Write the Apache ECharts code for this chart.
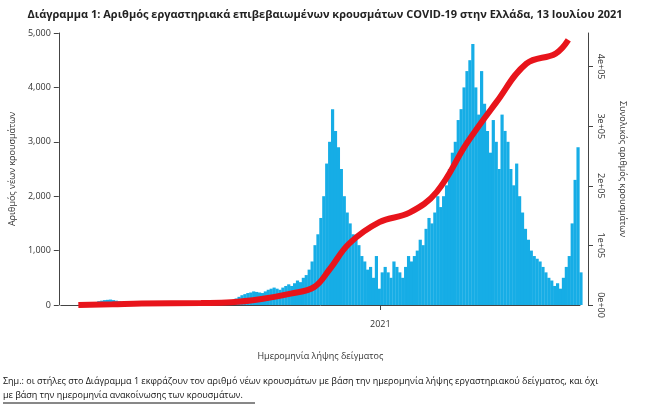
<!DOCTYPE html><html><head><meta charset="utf-8">
<script src="https://cdn.jsdelivr.net/npm/echarts@6/dist/echarts.min.js"></script>
<style>body{margin:0}#c{width:650px;height:405px}</style></head><body><div id="c"></div>
<script>
const startDate = '2020-02-26';
const stepDays = 3;
const dailyCases = [
 1,3,5,10,20,35,50,70,80,90,95,100,
 90,80,70,60,50,40,30,25,20,15,
 15,12,10,10,12,15,10,10,12,15,
 12,10,15,20,25,20,15,20,25,30,
 25,20,25,30,35,40,30,35,40,45,
 60,80,120,150,180,200,220,230,250,240,230,
 220,250,280,300,320,300,280,320,350,380,
 350,400,450,420,500,550,650,800,1100,1300,1600,
 2000,2600,3000,3600,3200,2900,2500,2000,1700,1500,
 1300,1200,1100,900,800,650,700,500,900,300,600,
 700,600,500,800,700,600,500,700,900,800,900,
 1000,1200,1100,1400,1600,1500,1700,2000,1800,2000,
 2200,2500,2800,3000,3400,3600,4000,4300,4500,4800,4000,
 3500,4300,3700,3200,2800,3400,3000,2500,3500,3200,
 3000,2500,2200,2600,2000,1700,1400,1200,1000,900,850,
 800,700,600,500,450,350,400,300,500,700,
 900,1500,2300,2900,600
];
const cumDates = ['2020-02-26','2020-04-01','2020-05-01','2020-07-01','2020-08-01','2020-09-01','2020-10-01','2020-10-25','2020-11-10','2020-11-30','2020-12-31','2021-01-31','2021-02-28','2021-03-31','2021-04-30','2021-05-31','2021-06-30','2021-07-13'];
const cumCases = [0,1300,2600,3400,4500,10000,19000,30000,60000,103000,139000,155000,190000,272000,340000,405000,422000,444783];
const leftTicks = [0,1000,2000,3000,4000,5000];
const rightTicks = [0,100000,200000,300000,400000];

const ts = d => new Date(d).getTime();
const t0 = ts(startDate);
const t2021 = ts('2021-01-01');
const barData = dailyCases.map((v,i)=>[t0 + i*stepDays*86400000, v]);
const cumData = cumDates.map((d,i)=> i===cumDates.length-1
  ? {value:[ts(d),cumCases[i]], label:{show:true,position:'top',offset:[-8,0],formatter:String(cumCases[i]),color:'#e8141b',fontWeight:'bold',fontSize:11}}
  : [ts(d),cumCases[i]]);
const ff = 'Open Sans';
const chart = echarts.init(document.getElementById('c'));
chart.setOption({
  animation:false,
  textStyle:{fontFamily:ff},
  title:{text:'Διάγραμμα 1: Αριθμός εργαστηριακά επιβεβαιωμένων κρουσμάτων COVID-19 στην Ελλάδα, 13 Ιουλίου 2021',left:'center',top:4,textStyle:{fontSize:11,fontWeight:'bold',color:'#222',fontFamily:ff}},
  grid:{left:55,right:70,top:33,bottom:100},
  xAxis:{type:'value',min:ts('2020-02-08'),max:ts('2021-07-25'),offset:7,
    name:'Ημερομηνία λήψης δείγματος',nameLocation:'middle',nameGap:40,nameTextStyle:{fontSize:9,color:'#333'},
    axisLine:{lineStyle:{color:'#444'}},splitLine:{show:false},
    axisTick:{customValues:[t2021],lineStyle:{color:'#444'}},
    axisLabel:{customValues:[t2021],formatter:()=> '2021',fontSize:9,color:'#333'}},
  yAxis:[
    {type:'value',min:0,max:5000,interval:1000,offset:2,name:'Αριθμός νέων κρουσμάτων',nameLocation:'middle',nameGap:38,nameTextStyle:{fontSize:9,color:'#333'},
     axisLine:{show:true,lineStyle:{color:'#444'}},axisTick:{show:true},splitLine:{show:false},
     axisLabel:{fontSize:9,color:'#333'}},
    {type:'value',min:0,max:456500,offset:8,position:'right',name:'Συνολικός αριθμός κρουσμάτων',nameLocation:'middle',nameGap:30,nameRotate:-90,nameTextStyle:{fontSize:9,color:'#333'},
     axisLine:{show:true,lineStyle:{color:'#444'}},axisTick:{show:true,customValues:rightTicks},splitLine:{show:false},
     axisLabel:{fontSize:9,color:'#333',rotate:-90,customValues:rightTicks,formatter:v=> v===0?'0e+00':(v/100000)+'e+05'}}
  ],
  series:[
    {type:'bar',data:barData,barWidth:3.2,itemStyle:{color:'#16ade6'},yAxisIndex:0},
    {type:'line',data:cumData,yAxisIndex:1,smooth:0.4,showSymbol:false,lineStyle:{color:'#e8141b',width:6},z:5}
  ],
  graphic:[
    {type:'text',left:3,top:377,style:{text:'Σημ.: οι στήλες στο Διάγραμμα 1 εκφράζουν τον αριθμό νέων κρουσμάτων με βάση την ημερομηνία λήψης εργαστηριακού δείγματος, και όχι',fontSize:9,fill:'#111',fontFamily:ff}},
    {type:'text',left:3,top:391,style:{text:'με βάση την ημερομηνία ανακοίνωσης των κρουσμάτων.',fontSize:9,fill:'#111',fontFamily:ff}},
    {type:'line',shape:{x1:3,y1:403,x2:255,y2:403},style:{stroke:'#111',lineWidth:1}}
  ]
});
</script></body></html>
